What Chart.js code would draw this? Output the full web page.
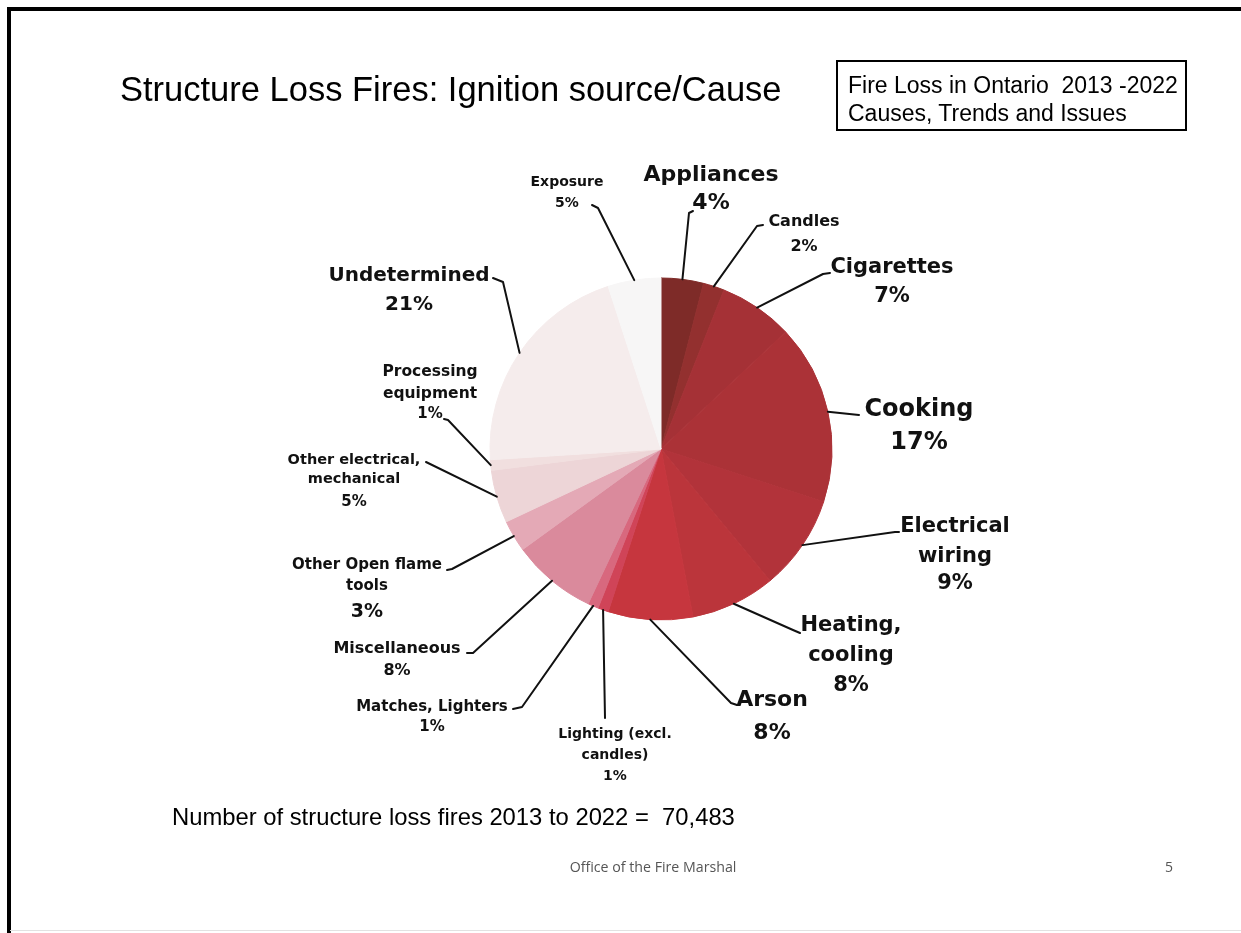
<!DOCTYPE html>
<html>
<head>
<meta charset="utf-8">
<script src="https://cdn.jsdelivr.net/npm/chart.js@4/dist/chart.umd.min.js"></script>
<style>
html,body{margin:0;padding:0;background:#fff;}
#page{position:relative;width:1241px;height:933px;overflow:hidden;background:#fff;}
#c{position:absolute;left:0;top:0;}
.t{position:absolute;white-space:nowrap;line-height:1;color:#000;}
.ctr{transform:translateX(-50%);}
.lbl{position:absolute;white-space:nowrap;line-height:1;transform:translateX(-50%);text-align:center;font-family:"DejaVu Sans",sans-serif;font-weight:bold;color:#111;}
#frameTop{position:absolute;left:7px;top:7px;width:1234px;height:3.5px;background:#000;}
#frameLeft{position:absolute;left:7px;top:7px;width:3.5px;height:926px;background:#000;}
#frameBottom{position:absolute;left:10px;top:930px;width:1231px;height:1px;background:#e2e2e2;}
#box{position:absolute;left:836px;top:60px;width:347px;height:67px;border:2px solid #000;}
</style>
</head>
<body>
<div id="page">
  <canvas id="c" width="1241" height="933"></canvas>
  <div id="frameTop"></div>
  <div id="frameLeft"></div>
  <div id="frameBottom"></div>
  <div class="t" style="left:120px;top:72px;font-family:'Liberation Sans',Arial,sans-serif;font-size:34.5px;">Structure Loss Fires: Ignition source/Cause</div>
  <div id="box"></div>
  <div class="t" style="left:848px;top:74px;font-family:'Liberation Sans',Arial,sans-serif;font-size:23px;">Fire Loss in Ontario&nbsp; 2013 -2022</div>
  <div class="t" style="left:848px;top:102px;font-family:'Liberation Sans',Arial,sans-serif;font-size:23px;">Causes, Trends and Issues</div>
  <div class="t" style="left:172px;top:805px;font-family:'Liberation Sans',Arial,sans-serif;font-size:23.8px;">Number of structure loss fires 2013 to 2022 =&nbsp; 70,483</div>
  <div class="t ctr" style="left:653px;top:860px;font-family:'Open Sans',sans-serif;font-size:14.2px;color:#555;">Office of the Fire Marshal</div>
  <div class="t" style="left:1165px;top:860px;font-family:'Open Sans',sans-serif;font-size:14px;color:#555;">5</div>
</div>
<script>
// ---- data ----
const categories = ["Appliances","Candles","Cigarettes","Cooking","Electrical wiring","Heating, cooling","Arson","Lighting (excl. candles)","Matches, Lighters","Miscellaneous","Other Open flame tools","Other electrical, mechanical","Processing equipment","Undetermined","Exposure"];
const percents = [4,2,7,17,9,8,8,1,1,8,3,5,1,21,5];

// ---- styles ----
const sliceColors = ["#7e2b28","#93302f","#a53136","#ab3237","#b2333a","#bb353b","#c6363e","#d04458","#d8687e","#da8a9c","#e4a9b6","#edd5d7","#f1dfdf","#f5ecec","#f7f6f6"];

// ---- label layout (page px): name lines, centre x, baselines, font sizes, leader elbow points ----
const labelLines = [["Appliances"],["Candles"],["Cigarettes"],["Cooking"],["Electrical","wiring"],["Heating,","cooling"],["Arson"],["Lighting (excl.","candles)"],["Matches, Lighters"],["Miscellaneous"],["Other Open flame","tools"],["Other electrical,","mechanical"],["Processing","equipment"],["Undetermined"],["Exposure"]];
const labelCx = [711,804,892,919,955,851,772,615,432,397,367,354,430,409,567];
const labelBase = [[182,210],[227,252],[274,303],[416,449],[533,563,590],[632,662,692],[707,740],[738,759,780],[712,732],[654,676],[570,591,617],[464,483,507],[377,399,419],[281,310],[186,207]];
const labelSize = [[22,22],[16,16],[21,21],[24,24],[21,21,21],[21,21,21],[22,22],[14,14,14],[15,15],[16,16],[15,15,19],[14.5,14.5,15],[15.5,15.5,15],[20,20],[14,14]];
const leaderPts = [
  [[689,213],[693,211]],
  [[757,226],[763,225]],
  [[823,274],[830,273]],
  [[859,415]],
  [[895,532],[899,532]],
  [[793,630],[800,633]],
  [[731,703],[737,705]],
  [[605,718]],
  [[522,707],[513,709]],
  [[473,653],[467,653]],
  [[452,569],[447,570]],
  [[426,462]],
  [[448,420],[444,419]],
  [[503,282],[493,278]],
  [[598,208],[592,205]]
];

// labels as DOM text
const page = document.getElementById('page');
categories.forEach((cat, i) => {
  const lines = labelLines[i].concat([percents[i] + "%"]);
  lines.forEach((txt, j) => {
    const fs = labelSize[i][j];
    const d = document.createElement('div');
    d.className = 'lbl';
    d.style.fontSize = fs + 'px';
    d.style.left = labelCx[i] + 'px';
    d.style.top = (labelBase[i][j] - 0.846 * fs) + 'px';
    d.textContent = txt;
    page.appendChild(d);
  });
});

const leaderPlugin = {
  id: 'leaders',
  afterDatasetsDraw(chart) {
    const ctx = chart.ctx;
    const meta = chart.getDatasetMeta(0);
    ctx.save();
    ctx.strokeStyle = '#111';
    ctx.lineWidth = 2;
    ctx.lineJoin = 'round';
    ctx.lineCap = 'round';
    meta.data.forEach((arc, i) => {
      const p = arc.getProps(['x','y','startAngle','endAngle','outerRadius'], true);
      const mid = (p.startAngle + p.endAngle) / 2;
      const sx = p.x + Math.cos(mid) * p.outerRadius;
      const sy = p.y + Math.sin(mid) * p.outerRadius;
      ctx.beginPath();
      ctx.moveTo(sx, sy);
      leaderPts[i].forEach(pt => ctx.lineTo(pt[0], pt[1]));
      ctx.stroke();
    });
    ctx.restore();
  }
};

new Chart(document.getElementById('c'), {
  type: 'pie',
  data: {
    labels: categories,
    datasets: [{
      data: percents,
      backgroundColor: sliceColors,
      borderColor: sliceColors,
      borderWidth: 1,
      radius: 171
    }]
  },
  options: {
    responsive: false,
    animation: false,
    layout: { padding: { left: 200, right: 119, top: 200, bottom: 235 } },
    plugins: { legend: { display: false }, tooltip: { enabled: false } }
  },
  plugins: [leaderPlugin]
});
</script>
</body>
</html>
